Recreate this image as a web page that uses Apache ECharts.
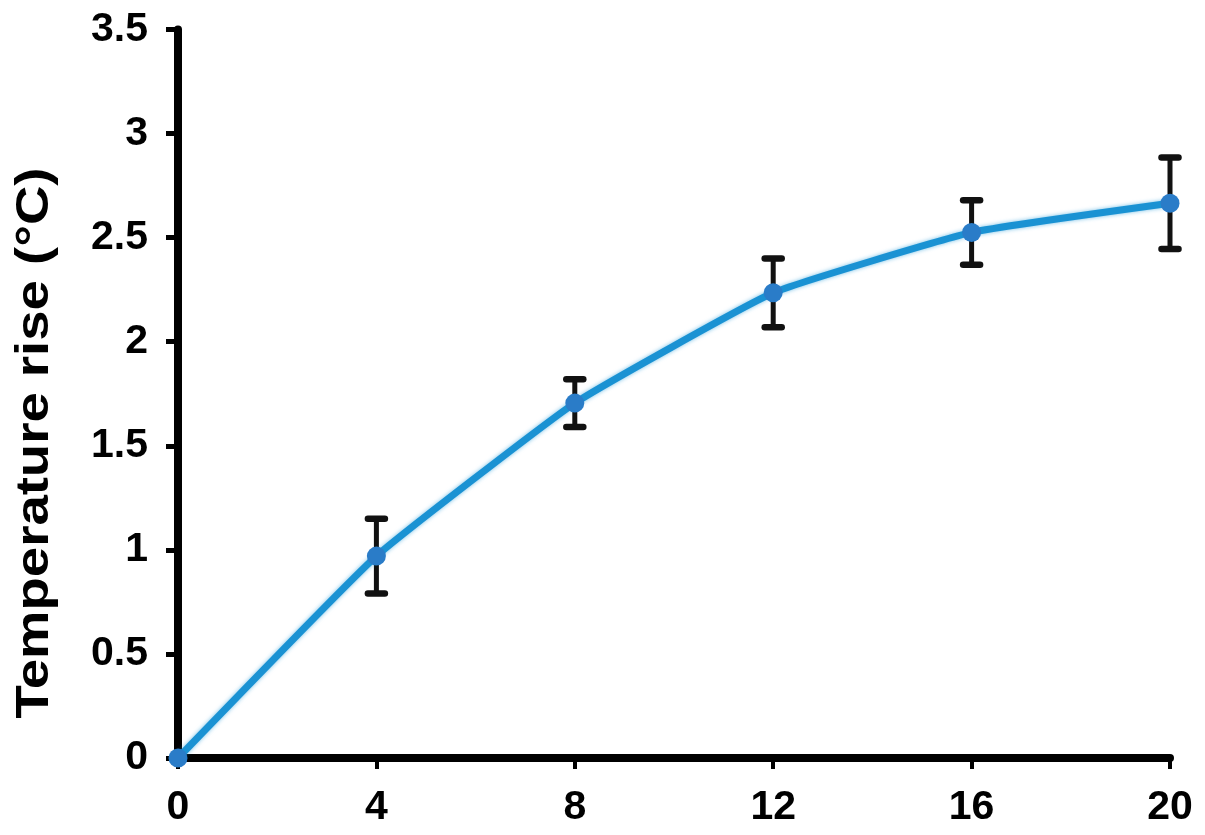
<!DOCTYPE html>
<html>
<head>
<meta charset="utf-8">
<script src="https://cdn.jsdelivr.net/npm/echarts@6/dist/echarts.min.js"></script>
<style>
html,body{margin:0;padding:0;background:#fff;}
#chart{width:1205px;height:835px;}
</style>
</head>
<body>
<div id="chart"></div>
<script>
// Data
const timePoints = [0, 4, 8, 12, 16, 20];
const tempRise = [0, 0.97, 1.705, 2.235, 2.525, 2.665];
const tempErr = [0, 0.18, 0.115, 0.165, 0.155, 0.22];
const yTitle = 'Temperature rise (\u00B0C)';

const FONT = '"Liberation Sans", Arial, Helvetica, sans-serif';

const chart = echarts.init(document.getElementById('chart'), null, {renderer: 'canvas'});

const errData = timePoints
  .map((t, i) => [t, tempRise[i] - tempErr[i], tempRise[i] + tempErr[i]])
  .filter((d, i) => tempErr[i] > 0);

const option = {
  backgroundColor: '#fff',
  animation: false,
  grid: {left: 178, right: 35, top: 29.5, bottom: 77, containLabel: false},
  xAxis: {
    type: 'value', min: 0, max: 20, interval: 4,
    axisLine: {show: true, lineStyle: {color: '#000', width: 8}, onZero: false},
    axisTick: {show: true, length: 11, lineStyle: {color: '#000', width: 4}},
    axisLabel: {margin: 29, color: '#000', fontSize: 41, fontWeight: 'bold', fontFamily: FONT},
    splitLine: {show: false}
  },
  yAxis: {
    type: 'value', min: 0, max: 3.5, interval: 0.5,
    axisLine: {show: true, lineStyle: {color: '#000', width: 8}, onZero: false},
    axisTick: {show: true, length: 12, lineStyle: {color: '#000', width: 5}},
    axisLabel: {margin: 30, color: '#000', fontSize: 41, fontWeight: 'bold', fontFamily: FONT},
    splitLine: {show: false}
  },
  graphic: [{
    type: 'text',
    x: 35, y: 443,
    rotation: Math.PI / 2,
    scaleX: 1.16,
    style: {
      text: yTitle,
      fill: '#000',
      fontSize: 47,
      fontWeight: 'bold',
      fontFamily: FONT,
      align: 'center',
      verticalAlign: 'middle'
    }
  }],
  series: [
    {
      type: 'custom',
      z: 1,
      data: errData,
      renderItem: function (params, api) {
        const x = api.value(0);
        const lo = api.coord([x, api.value(1)]);
        const hi = api.coord([x, api.value(2)]);
        const hw = 8.5;
        const st = {stroke: '#111', lineWidth: 5, lineCap: 'round'};
        const cap = {stroke: '#111', lineWidth: 6.5, lineCap: 'round'};
        return {
          type: 'group',
          children: [
            {type: 'line', shape: {x1: lo[0], y1: lo[1], x2: hi[0], y2: hi[1]}, style: st},
            {type: 'line', shape: {x1: hi[0] - hw, y1: hi[1], x2: hi[0] + hw, y2: hi[1]}, style: cap},
            {type: 'line', shape: {x1: lo[0] - hw, y1: lo[1], x2: lo[0] + hw, y2: lo[1]}, style: cap}
          ]
        };
      }
    },
    {
      type: 'line',
      z: 2,
      data: timePoints.map((t, i) => [t, tempRise[i]]),
      smooth: 0.12,
      symbol: 'circle',
      symbolSize: 19,
      itemStyle: {color: '#2a7cc8', borderWidth: 0},
      lineStyle: {color: '#1a92d3', width: 7, shadowColor: 'rgba(26,150,215,0.6)', shadowBlur: 4},
      clip: false
    }
  ]
};
chart.setOption(option);
</script>
</body>
</html>
